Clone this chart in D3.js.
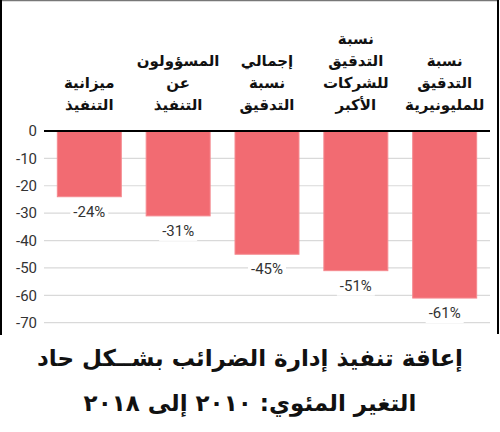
<!doctype html>
<html>
<head>
<meta charset="utf-8">
<style>
body { margin: 0; background: #fff; }
svg { display: block; }
.tick-label { font: 15px Roboto, "Liberation Sans", sans-serif; fill: #333; }
.val { font: 15px Roboto, "Liberation Sans", sans-serif; fill: #333; }
.cat { font: bold 15px "DejaVu Sans", sans-serif; fill: #111; }
.title { font: bold 23px "DejaVu Sans", sans-serif; fill: #111; }
</style>
<script src="https://cdn.jsdelivr.net/npm/d3@7"></script>
</head>
<body>
<svg width="500" height="432"></svg>
<script>
// data
var categories = [
  ["ميزانية", "التنفيذ"],
  ["المسؤولون", "عن", "التنفيذ"],
  ["إجمالي", "نسبة", "التدقيق"],
  ["نسبة", "التدقيق", "للشركات", "الأكبر"],
  ["نسبة", "التدقيق", "للمليونيرية"]
];
var values = [-24, -31, -45, -51, -61];
var yTicks = [0, -10, -20, -30, -40, -50, -60, -70];
var titleLines = ["إعاقة تنفيذ إدارة الضرائب بشــكل حاد", "التغير المئوي: ٢٠١٠ إلى ٢٠١٨"];

var svg = d3.select("svg"),
    width = +svg.attr("width"),
    height = +svg.attr("height");

var x = d3.scaleBand()
    .domain(d3.range(values.length))
    .range([44, 490])
    .paddingInner(0.28)
    .paddingOuter(0.15);

var y = d3.scaleLinear()
    .domain([0, -70])
    .range([131, 322.7]);

// frame
svg.append("line").attr("x1", 0).attr("x2", 499).attr("y1", 0.5).attr("y2", 0.5)
   .attr("stroke", "#777").attr("stroke-width", 1.5);
svg.append("line").attr("x1", 1).attr("x2", 1).attr("y1", 0).attr("y2", 335)
   .attr("stroke", "#000").attr("stroke-width", 2);
svg.append("line").attr("x1", 498).attr("x2", 498).attr("y1", 0).attr("y2", 334)
   .attr("stroke", "#000").attr("stroke-width", 2);

// grid
svg.append("g").selectAll("line")
    .data(yTicks.filter(function(d) { return d !== 0; }))
    .enter().append("line")
    .attr("x1", 44).attr("x2", 490)
    .attr("y1", function(d) { return y(d); })
    .attr("y2", function(d) { return y(d); })
    .attr("stroke", "#d9d9d9").attr("stroke-width", 1.2);

svg.append("g").selectAll("text")
    .data(yTicks)
    .enter().append("text")
    .attr("class", "tick-label")
    .attr("x", 37)
    .attr("y", function(d) { return y(d); })
    .attr("dy", "0.35em")
    .attr("text-anchor", "end")
    .text(function(d) { return d; });

// bars
svg.append("g").selectAll("rect")
    .data(values)
    .enter().append("rect")
    .attr("x", function(d, i) { return x(i); })
    .attr("y", y(0))
    .attr("width", x.bandwidth())
    .attr("height", function(d) { return y(d) - y(0); })
    .attr("fill", "#f26b72")
    .attr("stroke", "#f5898f")
    .attr("stroke-width", 1);

// zero line
svg.append("line").attr("x1", 44).attr("x2", 490)
   .attr("y1", y(0)).attr("y2", y(0))
   .attr("stroke", "#000").attr("stroke-width", 2);

// value labels with white box
var vl = svg.append("g").selectAll("g")
    .data(values)
    .enter().append("g")
    .attr("transform", function(d, i) {
      return "translate(" + (x(i) + x.bandwidth() / 2) + "," + (y(d) + 15) + ")";
    });
vl.append("rect")
    .attr("x", -19).attr("y", -10).attr("width", 38).attr("height", 20)
    .attr("fill", "#fff");
vl.append("text")
    .attr("class", "val")
    .attr("text-anchor", "middle")
    .attr("dy", "0.35em")
    .text(function(d) { return d + "%"; });

// category labels
svg.append("g").selectAll("text")
    .data(categories)
    .enter().append("text")
    .attr("class", "cat")
    .attr("text-anchor", "middle")
    .attr("direction", "rtl")
    .each(function(d, i) {
      var t = d3.select(this);
      var cx = x(i) + x.bandwidth() / 2;
      d.forEach(function(line, j) {
        t.append("tspan")
          .attr("x", cx)
          .attr("y", 110 - (d.length - 1 - j) * 22)
          .text(line);
      });
    });

// title
svg.append("g").selectAll("text")
    .data(titleLines)
    .enter().append("text")
    .attr("class", "title")
    .attr("text-anchor", "middle")
    .attr("direction", "rtl")
    .attr("x", width / 2)
    .attr("y", function(d, i) { return 366 + i * 45; })
    .text(function(d) { return d; });
</script>
</body>
</html>
